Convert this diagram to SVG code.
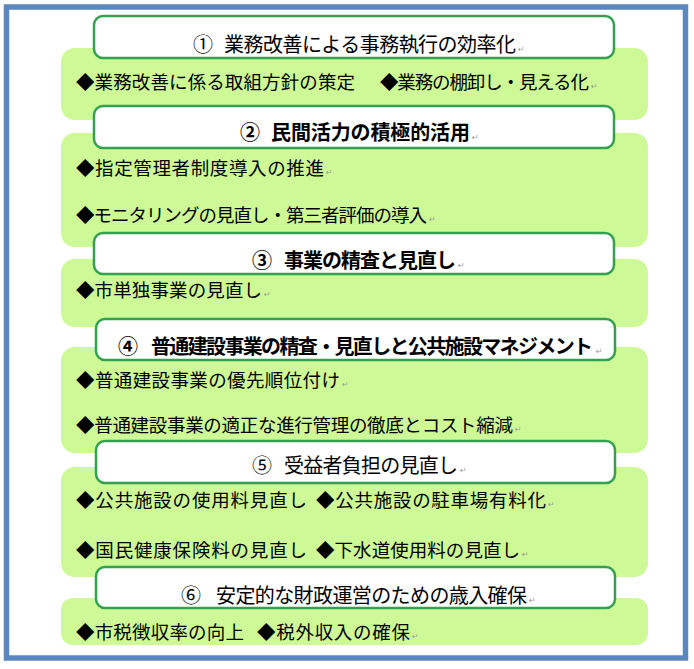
<svg xmlns="http://www.w3.org/2000/svg" width="694" height="669" viewBox="0 0 694 669">
<style>
.frame{fill:#ffffff;stroke:#5b87bf;stroke-width:5.5}
.body{fill:#cdf996}
.head{fill:#ffffff;stroke:#34a150;stroke-width:2.5}
.ht{font-family:"Noto Sans CJK JP","Noto Sans",sans-serif;font-size:20px;fill:#000}
.bold{font-weight:bold}
.bt{font-family:"Noto Sans CJK JP","Noto Sans",sans-serif;font-size:18.5px;fill:#000}
.rm{font-family:"DejaVu Sans",sans-serif;font-size:8px;fill:#9a9a9a}
</style>
<rect class="frame" x="6.5" y="7" width="679" height="651"/>
<g id="connectors"/>
<g id="section1">
<rect class="body" x="61" y="48" width="587" height="72" rx="14"/>
<rect class="head" x="94" y="16" width="520" height="42" rx="9"/>
<text class="ht" x="193" y="52">①</text>
<text class="ht" x="224" y="52" textLength="292" lengthAdjust="spacing">業務改善による事務執行の効率化</text>
<text class="rm" x="518" y="52">↵</text>
<text class="bt" x="76" y="89" textLength="279" lengthAdjust="spacing">◆業務改善に係る取組方針の策定</text>
<text class="bt" x="380" y="89" textLength="209" lengthAdjust="spacing">◆業務の棚卸し・見える化</text>
<text class="rm" x="591" y="89">↵</text>
</g>
<g id="section2">
<rect class="body" x="61" y="133" width="587" height="114" rx="14"/>
<rect class="head" x="94" y="106" width="520" height="42" rx="9"/>
<text class="ht bold" x="240" y="140">②</text>
<text class="ht bold" x="271" y="140" textLength="199" lengthAdjust="spacing">民間活力の積極的活用</text>
<text class="rm" x="472" y="140">↵</text>
<text class="bt" x="76" y="175" textLength="248" lengthAdjust="spacing">◆指定管理者制度導入の推進</text>
<text class="rm" x="326" y="175">↵</text>
<text class="bt" x="76" y="222" textLength="351" lengthAdjust="spacing">◆モニタリングの見直し・第三者評価の導入</text>
<text class="rm" x="429" y="222">↵</text>
</g>
<g id="section3">
<rect class="body" x="61" y="259" width="587" height="68" rx="14"/>
<rect class="head" x="94" y="233" width="520" height="41" rx="9"/>
<text class="ht bold" x="252" y="268">③</text>
<text class="ht bold" x="284" y="268" textLength="172" lengthAdjust="spacing">事業の精査と見直し</text>
<text class="rm" x="458" y="268">↵</text>
<text class="bt" x="76" y="297" textLength="186" lengthAdjust="spacing">◆市単独事業の見直し</text>
<text class="rm" x="264" y="297">↵</text>
</g>
<g id="section4">
<rect class="body" x="61" y="347" width="587" height="106" rx="14"/>
<rect class="head" x="96" y="319" width="519" height="41" rx="9"/>
<text class="ht bold" x="118" y="354">④</text>
<text class="ht bold" x="151" y="354" textLength="442" lengthAdjust="spacing">普通建設事業の精査・見直しと公共施設マネジメント</text>
<text class="rm" x="596" y="354">↵</text>
<text class="bt" x="76" y="387" textLength="264" lengthAdjust="spacing">◆普通建設事業の優先順位付け</text>
<text class="rm" x="342" y="387">↵</text>
<text class="bt" x="76" y="432" textLength="437" lengthAdjust="spacing">◆普通建設事業の適正な進行管理の徹底とコスト縮減</text>
<text class="rm" x="515" y="432">↵</text>
</g>
<g id="section5">
<rect class="body" x="61" y="467" width="587" height="110" rx="14"/>
<rect class="head" x="96" y="441" width="519" height="42" rx="9"/>
<text class="ht" x="252" y="473">⑤</text>
<text class="ht" x="284" y="473" textLength="174" lengthAdjust="spacing">受益者負担の見直し</text>
<text class="rm" x="460" y="473">↵</text>
<text class="bt" x="76" y="507" textLength="231" lengthAdjust="spacing">◆公共施設の使用料見直し</text>
<text class="bt" x="316" y="507" textLength="230" lengthAdjust="spacing">◆公共施設の駐車場有料化</text>
<text class="rm" x="548" y="507">↵</text>
<text class="bt" x="76" y="557" textLength="231" lengthAdjust="spacing">◆国民健康保険料の見直し</text>
<text class="bt" x="316" y="557" textLength="204" lengthAdjust="spacing">◆下水道使用料の見直し</text>
<text class="rm" x="522" y="557">↵</text>
</g>
<g id="section6">
<rect class="body" x="61" y="598" width="587" height="47" rx="12"/>
<rect class="head" x="96" y="567" width="519" height="41" rx="9"/>
<text class="ht" x="181" y="603">⑥</text>
<text class="ht" x="216" y="603" textLength="311" lengthAdjust="spacing">安定的な財政運営のための歳入確保</text>
<text class="rm" x="529" y="603">↵</text>
<text class="bt" x="76" y="639" textLength="168" lengthAdjust="spacing">◆市税徴収率の向上</text>
<text class="bt" x="257" y="639" textLength="153" lengthAdjust="spacing">◆税外収入の確保</text>
<text class="rm" x="412" y="639">↵</text>
</g>
</svg>
